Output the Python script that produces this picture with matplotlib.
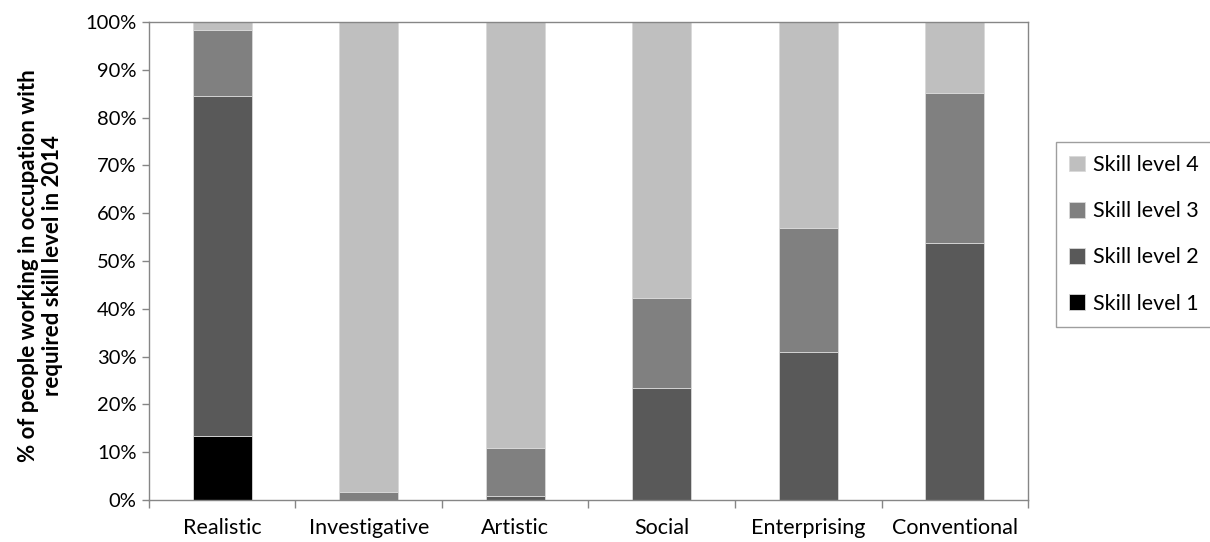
import matplotlib
matplotlib.use("Agg")
import matplotlib.pyplot as plt
import numpy as np

plt.rcParams['font.family'] = ['Lato', 'DejaVu Sans']

categories = ["Realistic", "Investigative", "Artistic", "Social", "Enterprising", "Conventional"]
skill1 = [13.3, 0.0, 0.0, 0.0, 0.0, 0.0]
skill2 = [71.3, 0.0, 0.8, 23.4, 31.0, 53.8]
skill3 = [13.7, 1.7, 10.0, 18.9, 26.0, 31.3]
skill4 = [1.7, 98.3, 89.2, 57.7, 43.0, 14.9]
series_names = ["Skill level 1", "Skill level 2", "Skill level 3", "Skill level 4"]
series_colors = ["#000000", "#595959", "#808080", "#bfbfbf"]

fig = plt.figure(figsize=(12.1, 5.42), dpi=100)
ax = fig.add_axes([0.1231, 0.0775, 0.7265, 0.8819])

x = np.arange(len(categories))
bottom = np.zeros(len(categories))
handles = []
for vals, name, col in zip([skill1, skill2, skill3, skill4], series_names, series_colors):
    v = np.array(vals) / 100.0
    h = ax.bar(x, v, width=0.4, bottom=bottom, color=col, edgecolor="#d9d9d9",
               linewidth=0.6, label=name)
    handles.append(h)
    bottom += v

ax.set_xlim(-0.5, len(categories) - 0.5)
ax.set_ylim(0, 1.0)
yt = np.arange(0, 1.01, 0.1)
ax.set_yticks(yt)
ax.set_yticklabels([f"{int(round(t*100))}%" for t in yt], fontsize=14.5)

# category boundaries carry the tick marks, labels sit at the centres
ax.set_xticks(np.arange(-0.5, len(categories), 1.0))
ax.set_xticklabels([])
ax.set_xticks(x, minor=True)
ax.set_xticklabels(categories, minor=True, fontsize=15.5)
ax.tick_params(axis="x", which="minor", length=0, pad=13)
ax.tick_params(axis="x", which="major", direction="out", length=6, color="#868686", width=1)
ax.tick_params(axis="y", direction="out", length=5, color="#868686", width=1, pad=4)

for s in ax.spines.values():
    s.set_color("#868686")
    s.set_linewidth(1.0)

ax.set_ylabel("% of people working in occupation with\nrequired skill level in 2014",
              fontsize=16, fontweight="bold", linespacing=1.15)
ax.yaxis.set_label_coords(-0.098, 0.49)

leg = fig.legend(handles[::-1], series_names[::-1], loc="upper left",
                 bbox_to_anchor=(0.873, 0.738), fontsize=15.5, frameon=True,
                 fancybox=False, edgecolor="#868686", handlelength=0.75,
                 handleheight=0.75, handletextpad=0.35, labelspacing=1.22,
                 borderpad=0.6, borderaxespad=0)
leg.get_frame().set_linewidth(1.0)

fig.savefig("out.png", dpi=100)
